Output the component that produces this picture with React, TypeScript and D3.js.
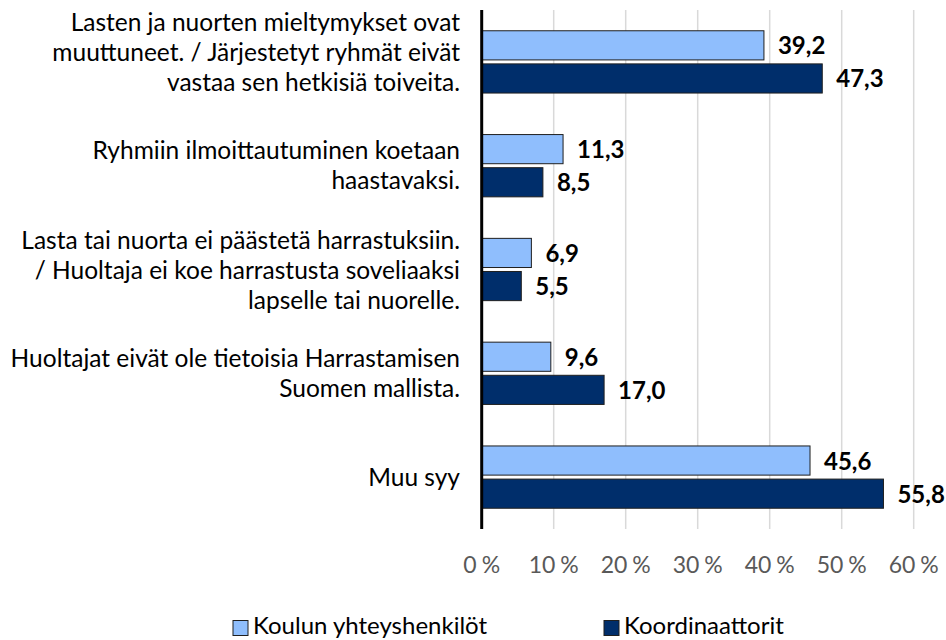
import React from "react";
import * as d3 from "d3";

const categories: string[][] = [
  ["Lasten ja nuorten mieltymykset ovat", "muuttuneet. / Järjestetyt ryhmät eivät", "vastaa sen hetkisiä toiveita."],
  ["Ryhmiin ilmoittautuminen koetaan", "haastavaksi."],
  ["Lasta tai nuorta ei päästetä harrastuksiin.", "/ Huoltaja ei koe harrastusta soveliaaksi", "lapselle tai nuorelle."],
  ["Huoltajat eivät ole tietoisia Harrastamisen", "Suomen mallista."],
  ["Muu syy"],
];
const seriesNames = ["Koulun yhteyshenkilöt", "Koordinaattorit"];
const koulunValues = [39.2, 11.3, 6.9, 9.6, 45.6];
const koordValues = [47.3, 8.5, 5.5, 17.0, 55.8];
const xTicks = [0, 10, 20, 30, 40, 50, 60];

const colors = ["#8FBEFD", "#002E6B"];
const FONT = "Lato, 'Open Sans', sans-serif";

export default function App() {
  const left = 481.7, right = 913.7, top = 10, bottom = 529;
  const x = d3.scaleLinear().domain([0, 60]).range([left, right]);
  const ids = categories.map((_, i) => String(i));
  const y = d3.scaleBand().domain(ids).range([top, bottom]).paddingInner(0.4).paddingOuter(0.2);
  const ys = d3.scaleBand().domain(seriesNames).range([0, y.bandwidth()]).paddingInner(0.12);
  const series = [koulunValues, koordValues];
  const labelShift = [-9, 0, 1, 0, 0];
  const lineH = 30;
  const fmt = (v: number) => v.toFixed(1).replace(".", ",");

  return (
    <svg width={946} height={640} style={{ position: "absolute", left: 0, top: 0, background: "#fff" }} fontFamily={FONT}>
      {xTicks.slice(1).map((t) => (
        <line key={t} x1={x(t)} x2={x(t)} y1={top} y2={bottom} stroke="#d9d9d9" strokeWidth={1.5} />
      ))}
      {series.map((vals, s) =>
        vals.map((v, i) => (
          <rect key={s + "-" + i} x={x(0)} y={(y(ids[i]) as number) + (ys(seriesNames[s]) as number)}
            width={x(v) - x(0)} height={ys.bandwidth()} fill={colors[s]} stroke="#1f1f1f" strokeWidth={1} />
        ))
      )}
      <line x1={left} x2={left} y1={top} y2={bottom} stroke="#000" strokeWidth={3} />
      {series.map((vals, s) =>
        vals.map((v, i) => (
          <text key={"l" + s + "-" + i} x={x(v) + 14}
            y={(y(ids[i]) as number) + (ys(seriesNames[s]) as number) + ys.bandwidth() / 2 + 9}
            fontSize={24} fontWeight="bold" fill="#000">{fmt(v)}</text>
        ))
      )}
      {categories.map((lines, i) => {
        const c = (y(ids[i]) as number) + y.bandwidth() / 2 + labelShift[i];
        const start = c - ((lines.length - 1) * lineH) / 2;
        return (
          <text key={"c" + i} textAnchor="end" fontSize={24.5} fill="#000">
            {lines.map((ln, k) => (
              <tspan key={k} x={460} y={start + k * lineH + 8.5}>{ln}</tspan>
            ))}
          </text>
        );
      })}
      {xTicks.map((t) => (
        <text key={"t" + t} x={x(t)} y={573} textAnchor="middle" fontSize={23} fill="#595959">
          {String(t)}<tspan dx={5}>%</tspan>
        </text>
      ))}
      {seriesNames.map((n, s) => {
        const lx = s === 0 ? 233 : 604;
        return (
          <g key={"lg" + s}>
            <rect x={lx} y={620.5} width={15} height={15} fill={colors[s]} stroke="#1f1f1f" strokeWidth={1} />
            <text x={lx + 20} y={634} fontSize={24} fill="#000">{n}</text>
          </g>
        );
      })}
    </svg>
  );
}
